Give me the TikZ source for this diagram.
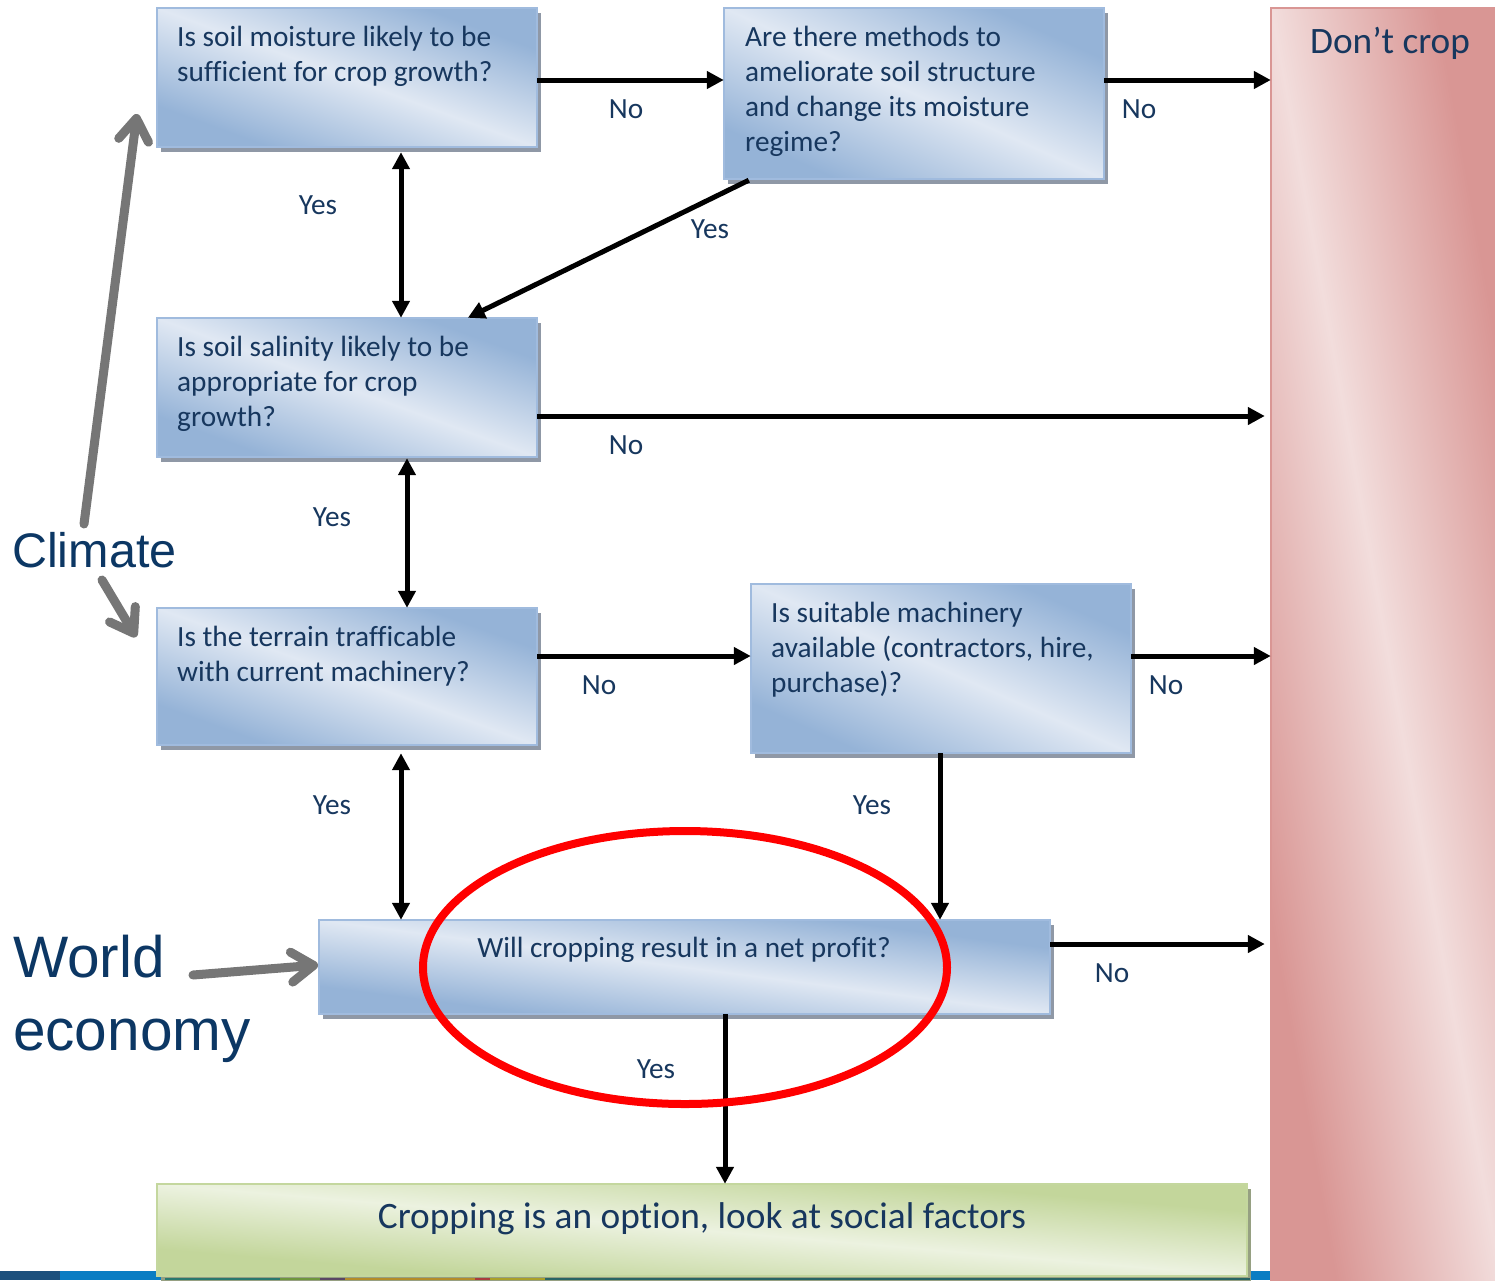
\documentclass[tikz,border=0pt]{standalone}
\usepackage{fontspec}
\setmainfont{Carlito}[Ligatures=NoCommon]
\newfontfamily\arialf{Liberation Sans}
\usetikzlibrary{arrows.meta,shadows,calc}
\definecolor{txt}{RGB}{23,55,94}
\definecolor{bigtxt}{RGB}{12,55,100}
\definecolor{blueD}{RGB}{149,179,215}
\definecolor{blueL}{RGB}{224,232,243}
\definecolor{blueEdge}{RGB}{160,187,222}
\definecolor{shadowB}{RGB}{143,152,166}
\definecolor{greenD}{RGB}{195,214,155}
\definecolor{greenL}{RGB}{236,242,224}
\definecolor{greenEdge}{RGB}{196,215,158}
\definecolor{shadowG}{RGB}{150,160,130}
\definecolor{redD}{RGB}{217,150,148}
\definecolor{redL}{RGB}{242,221,220}
\definecolor{garrow}{RGB}{118,118,118}
% diagonal gradient stretched to a box: dark at top-right and bottom-left corners
\newcommand\diagshade[5]{%
  \shade[transform canvas={shift={(#1.center)}, xscale=#2/100, yscale=#3/100},
    top color=#4, bottom color=#4, middle color=#5, shading angle=-45]
    (-50,-50) rectangle (50,50);}
\begin{document}
\begin{tikzpicture}[x=1pt,y=-1pt,
  qbox/.style={rectangle, inner sep=0pt, fill=blueL,
    drop shadow={shadow xshift=4pt, shadow yshift=-5pt, fill=shadowB, opacity=1, draw=none}},
  gbox/.style={rectangle, inner sep=0pt, fill=greenL,
    drop shadow={shadow xshift=4pt, shadow yshift=-5pt, fill=shadowG, opacity=1, draw=none}},
  rbox/.style={rectangle, inner sep=0pt, fill=redL},
  qedge/.style={draw=blueEdge, line width=1.5pt},
  gedge/.style={draw=greenEdge, line width=1.5pt},
  redge/.style={draw=redD, line width=2pt},
  qtext/.style={anchor=base west, inner sep=0pt, text=txt, font=\fontsize{29.3}{35}\selectfont},
  ctext/.style={anchor=base, inner sep=0pt, text=txt, font=\fontsize{29.3}{35}\selectfont},
  btext/.style={anchor=base, inner sep=0pt, text=txt, font=\fontsize{37.3}{44}\selectfont},
  lab/.style={anchor=base, inner sep=0pt, text=txt, font=\fontsize{29.3}{35}\selectfont},
  side/.style={anchor=base west, inner sep=0pt, text=bigtxt},
  arr/.style={line width=5pt, -{Triangle[length=17pt,width=17pt]}},
  dbl/.style={line width=5pt, {Triangle[length=17pt,width=17pt]}-{Triangle[length=17pt,width=17pt]}},
  garr/.style={garrow, line width=9pt, line cap=round, -{Straight Barb[length=22pt,width=30pt,round]}}
]
\useasboundingbox (0,0) rectangle (1495,1280);
\fill[white] (0,0) rectangle (1495,1280);

% footer strip
\fill[fill={rgb,255:red,28;green,80;blue,125}] (0,1271) rectangle (60,1280);
\fill[fill={rgb,255:red,10;green,125;blue,195}] (60,1271) rectangle (1275,1280);

% Don't crop
\node[rbox, minimum width=235pt, minimum height=1300pt] (dc) at (1388.5,658) {};
\diagshade{dc}{235}{1300}{redD}{redL}
\draw[redge] (dc.south west) rectangle (dc.north east);
\node[btext] (dct) at (1390,53) {Don’t crop};

% question boxes
\node[qbox, minimum width=380pt, minimum height=139pt] (b1) at (347,77.5) {};
\diagshade{b1}{380}{139}{blueD}{blueL}
\draw[qedge] (b1.south west) rectangle (b1.north east);
\node[qbox, minimum width=380pt, minimum height=171pt] (b2) at (914,93.5) {};
\diagshade{b2}{380}{171}{blueD}{blueL}
\draw[qedge] (b2.south west) rectangle (b2.north east);
\node[qbox, minimum width=380pt, minimum height=139pt] (b3) at (347,387.5) {};
\diagshade{b3}{380}{139}{blueD}{blueL}
\draw[qedge] (b3.south west) rectangle (b3.north east);
\node[qbox, minimum width=380pt, minimum height=137pt] (b4) at (347,676.5) {};
\diagshade{b4}{380}{137}{blueD}{blueL}
\draw[qedge] (b4.south west) rectangle (b4.north east);
\node[qbox, minimum width=380pt, minimum height=169pt] (b5) at (941,668.5) {};
\diagshade{b5}{380}{169}{blueD}{blueL}
\draw[qedge] (b5.south west) rectangle (b5.north east);
\node[qbox, minimum width=731pt, minimum height=94pt] (b6) at (684.5,967) {};
\diagshade{b6}{731}{94}{blueD}{blueL}
\draw[qedge] (b6.south west) rectangle (b6.north east);
\node[gbox, minimum width=1090pt, minimum height=92pt] (g) at (702,1230) {};
\diagshade{g}{1090}{92}{greenD}{greenL}
\draw[gedge] (g.south west) rectangle (g.north east);

% footer pieces under the green box
\fill[fill={rgb,255:red,40;green,120;blue,110}] (165,1277.5) rectangle (280,1280);
\fill[fill={rgb,255:red,110;green,150;blue,60}] (280,1277.5) rectangle (320,1280);
\fill[fill={rgb,255:red,90;green,70;blue,100}] (320,1277.5) rectangle (345,1280);
\fill[fill={rgb,255:red,180;green,140;blue,40}] (345,1277.5) rectangle (475,1280);
\fill[fill={rgb,255:red,170;green,60;blue,60}] (475,1277.5) rectangle (490,1280);
\fill[fill={rgb,255:red,170;green,160;blue,40}] (490,1277.5) rectangle (545,1280);
\fill[fill={rgb,255:red,40;green,100;blue,100}] (545,1277.5) rectangle (1250,1280);

% box texts
\node[qtext] (b1t) at (177,46) {\vtop{\hbox{Is soil moisture likely to be}\hbox{sufficient for crop growth?}}};
\node[qtext] (b2t) at (745,46) {\vtop{\hbox{Are there methods to}\hbox{ameliorate soil structure}\hbox{and change its moisture}\hbox{regime?}}};
\node[qtext] (b3t) at (177,356) {\vtop{\hbox{Is soil salinity likely to be}\hbox{appropriate for crop}\hbox{growth?}}};
\node[qtext] (b4t) at (177,646) {\vtop{\hbox{Is the terrain trafficable}\hbox{with current machinery?}}};
\node[qtext] (b5t) at (771,622) {\vtop{\hbox{Is suitable machinery}\hbox{available (contractors, hire,}\hbox{purchase)?}}};
\node[ctext] (b6t) at (684,957) {Will cropping result in a net profit?};
\node[btext] (gt) at (702,1228) {Cropping is an option, look at social factors};

% connectors
\draw[arr] (b1.east |- 0,80) -- (b2.west |- 0,80);
\draw[arr] (b2.east |- 0,80) -- (dc.west |- 0,80);
\draw[dbl, shorten <=5pt] (b1.south -| 401,0) -- (b3.north -| 401,0);
\draw[arr] ($(b2.south west)+(25,1)$) -- ($(b3.north west)+(311,0)$);
\draw[arr, shorten >=6pt] (b3.east |- 0,416) -- (dc.west |- 0,416);
\draw[dbl, shorten <=1pt] (b3.south -| 407,0) -- (b4.north -| 407,0);
\draw[arr] (b4.east |- 0,656) -- (b5.west |- 0,656);
\draw[arr] (b5.east |- 0,656) -- (dc.west |- 0,656);
\draw[dbl, shorten <=8pt] (b4.south -| 401,0) -- (b6.north -| 401,0);
\draw[arr] (b5.south -| 940,0) -- (b6.north -| 940,0);
\draw[arr, shorten >=6pt] (b6.east |- 0,944) -- (dc.west |- 0,944);
\draw[arr] (b6.south -| 725,0) -- (g.north -| 725,0);

% labels
\node[lab] (l1) at (626,118) {No};
\node[lab] (l2) at (1139,118) {No};
\node[lab] (l3) at (318,214) {Yes};
\node[lab] (l4) at (710,238) {Yes};
\node[lab] (l5) at (626,454) {No};
\node[lab] (l6) at (332,526) {Yes};
\node[lab] (l7) at (599,694) {No};
\node[lab] (l8) at (1166,694) {No};
\node[lab] (l9) at (332,814) {Yes};
\node[lab] (l10) at (872,814) {Yes};
\node[lab] (l11) at (1112,982) {No};
\node[lab] (l12) at (656,1078) {Yes};

% side labels
\node[side, font=\arialf\fontsize{48.5}{58}\selectfont] (climate) at (12,567) {Climate};
\node[side, font=\arialf\fontsize{58.5}{73}\selectfont] (world) at (13,977) {\vtop{\hbox{World}\hbox{economy}}};

\coordinate (c1s) at (84,524);
\coordinate (c1e) at (137,114);
\coordinate (c2s) at (102,580);
\coordinate (c2e) at (136,637);
\coordinate (c3s) at (193,975);
\coordinate (c3e) at (318,965);
\draw[garr] (c1s) -- (c1e);
\draw[garr] (c2s) -- (c2e);
\draw[garr] (c3s) -- (c3e);

% red ellipse
\draw[red, line width=8pt] (685,967.5) ellipse [x radius=262pt, y radius=136.5pt];
\end{tikzpicture}
\end{document}
